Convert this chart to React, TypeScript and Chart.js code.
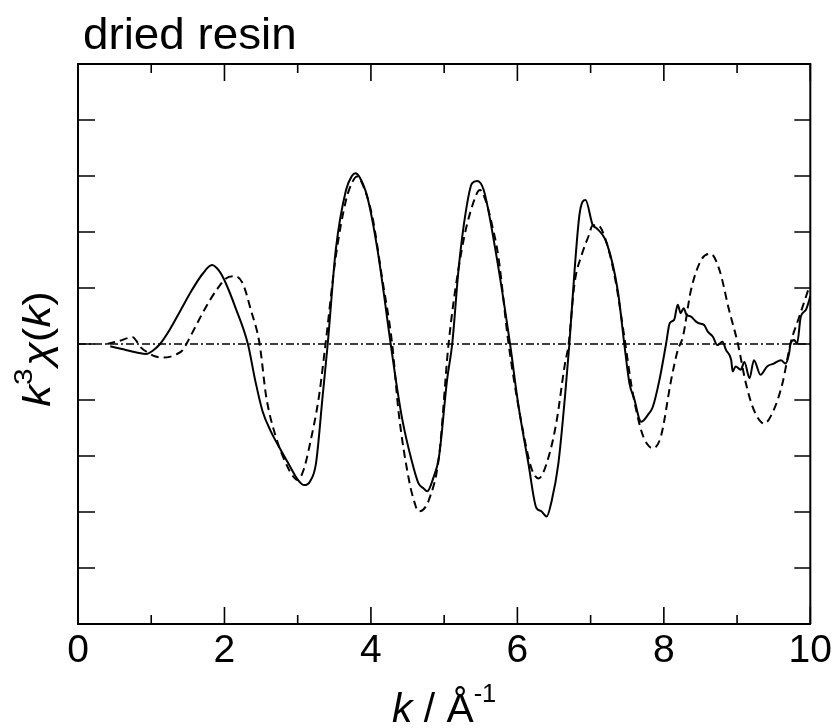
import React, { useEffect, useRef } from "react";
import { Chart, registerables } from "chart.js";

Chart.register(...registerables);

const FONT = '"Liberation Sans", Arial, sans-serif';

// Measured (solid) k^3 chi(k)
const measuredK = [
  0.44, 0.6, 0.8, 0.93, 1.02, 1.12, 1.25, 1.4, 1.55, 1.7, 1.83, 1.93, 2.02, 2.15, 2.32,
  2.42, 2.52, 2.63, 2.75, 2.88, 3.0, 3.09, 3.17, 3.25, 3.34, 3.41, 3.52, 3.66, 3.74, 3.79,
  3.84, 3.95, 4.09, 4.27, 4.34, 4.43, 4.55, 4.65, 4.72, 4.77, 4.85, 4.93, 5.04, 5.11, 5.2,
  5.3, 5.38, 5.45, 5.54, 5.7, 5.9, 6.01, 6.15, 6.26, 6.32, 6.4, 6.47, 6.56, 6.65, 6.71,
  6.78, 6.85, 6.93, 7.03, 7.08, 7.22, 7.37, 7.46, 7.53, 7.6, 7.67, 7.69, 7.78, 7.85, 7.94,
  8.03, 8.08, 8.14, 8.19, 8.23, 8.27, 8.31, 8.37, 8.44, 8.48, 8.55, 8.6, 8.67, 8.73, 8.8,
  8.85, 8.92, 8.94, 8.98, 9.05, 9.1, 9.17, 9.23, 9.32, 9.41, 9.5, 9.6, 9.66, 9.71, 9.73,
  9.78, 9.82, 9.87, 9.94, 10.0,
];
const measuredChi = [
  -0.04, -0.09, -0.15, -0.18, -0.12, 0.0, 0.25, 0.6, 0.95, 1.25, 1.41, 1.3, 1.08, 0.65, 0.0,
  -0.65, -1.2, -1.55, -1.85, -2.15, -2.42, -2.52, -2.45, -2.13, -0.94, 0.0, 1.68, 2.75, 3.0, 3.05,
  2.99, 2.63, 1.68, 0.0, -0.64, -1.36, -2.05, -2.49, -2.58, -2.63, -2.4, -2.01, -0.64, 0.0, 1.38,
  2.4, 2.87, 2.91, 2.75, 1.68, 0.0, -1.06, -2.13, -2.93, -2.98, -3.08, -2.79, -2.13, -0.94, 0.0,
  1.3, 2.33, 2.57, 2.12, 2.07, 1.8, 0.96, 0.0, -0.7, -1.0, -1.36, -1.39, -1.27, -1.12, -0.64,
  0.0, 0.37, 0.43, 0.7, 0.55, 0.64, 0.52, 0.49, 0.4, 0.37, 0.34, 0.22, 0.13, -0.02, 0.04,
  -0.11, -0.29, -0.49, -0.4, -0.46, -0.32, -0.61, -0.29, -0.55, -0.4, -0.35, -0.29, -0.35, -0.17, 0.01,
  0.07, 0.01, 0.49, 0.61, 0.85,
];

// Fitted (dashed) k^3 chi(k)
const fitK = [
  0.4, 0.55, 0.75, 0.8, 0.85, 0.95, 1.05, 1.15, 1.25, 1.35, 1.43, 1.48, 1.6, 1.7, 1.8,
  1.89, 2.02, 2.14, 2.25, 2.36, 2.48, 2.57, 2.7, 2.86, 2.93, 3.0, 3.08, 3.16, 3.29, 3.38,
  3.52, 3.66, 3.75, 3.81, 3.88, 4.02, 4.15, 4.29, 4.38, 4.52, 4.6, 4.65, 4.72, 4.79, 4.93,
  5.06, 5.24, 5.38, 5.49, 5.57, 5.65, 5.74, 5.88, 6.1, 6.2, 6.29, 6.4, 6.53, 6.65, 6.7,
  6.78, 6.88, 6.97, 7.03, 7.1, 7.19, 7.33, 7.46, 7.56, 7.69, 7.78, 7.85, 7.96, 8.1, 8.19,
  8.26, 8.37, 8.51, 8.64, 8.76, 8.89, 9.01, 9.12, 9.23, 9.37, 9.5, 9.62, 9.73, 9.85, 9.97,
];
const fitChi = [
  0.0, 0.05, 0.12, 0.05, -0.05, -0.15, -0.22, -0.24, -0.23, -0.18, -0.11, 0.0, 0.3, 0.55, 0.78,
  0.96, 1.17, 1.21, 1.08, 0.61, 0.0, -0.94, -1.65, -2.19, -2.35, -2.43, -2.25, -1.83, -0.94, 0.0,
  1.56, 2.57, 2.9, 2.99, 2.87, 2.27, 1.2, 0.0, -1.24, -2.43, -2.85, -2.99, -2.95, -2.79, -2.01,
  0.0, 1.68, 2.45, 2.75, 2.55, 2.15, 1.56, 0.0, -1.71, -2.25, -2.4, -2.13, -1.42, -0.35, 0.0,
  1.08, 1.6, 1.92, 2.12, 2.12, 1.92, 1.2, 0.13, -0.76, -1.54, -1.8, -1.86, -1.65, -0.64, -0.11,
  0.13, 0.96, 1.5, 1.61, 1.32, 0.61, 0.01, -0.7, -1.18, -1.42, -1.18, -0.7, 0.01, 0.49, 0.96,
];

const zeroK = [0, 10];
const zeroChi = [0, 0];

const xTickValues = [0, 1, 2, 3, 4, 5, 6, 7, 8, 9, 10];
const yTickValues = [-5, -4, -3, -2, -1, 0, 1, 2, 3, 4, 5];

const titleText = "dried resin";

type Part = { t: string; f: string; dy?: number; gap?: number };

function drawParts(ctx: CanvasRenderingContext2D, parts: Part[], sx: number) {
  let w = 0;
  for (const p of parts) {
    ctx.font = p.f;
    w += ctx.measureText(p.t).width + (p.gap || 0);
  }
  let x = -w / 2;
  ctx.scale(sx, 1);
  for (const p of parts) {
    ctx.font = p.f;
    ctx.fillText(p.t, x, p.dy || 0);
    x += ctx.measureText(p.t).width + (p.gap || 0);
  }
}

const framePlugin = {
  id: "framePlugin",
  afterDraw(chart: any) {
    const { ctx, chartArea } = chart;
    const xs = chart.scales.x;
    const ys = chart.scales.y;
    const { left, right, top, bottom } = chartArea;
    ctx.save();
    ctx.strokeStyle = "#000";
    ctx.lineWidth = 2;
    ctx.beginPath();
    ctx.moveTo(left, top);
    ctx.lineTo(right, top);
    ctx.lineTo(right, bottom);
    ctx.stroke();
    ctx.lineWidth = 1.6;
    ctx.beginPath();
    for (const v of xTickValues) {
      const px = xs.getPixelForValue(v);
      const len = v % 2 === 0 ? 17 : 9;
      ctx.moveTo(px, bottom);
      ctx.lineTo(px, bottom - len);
      ctx.moveTo(px, top);
      ctx.lineTo(px, top + len);
    }
    for (const v of yTickValues) {
      const py = ys.getPixelForValue(v);
      ctx.moveTo(left, py);
      ctx.lineTo(left + 17, py);
      ctx.moveTo(right, py);
      ctx.lineTo(right - 16, py);
    }
    ctx.stroke();

    ctx.fillStyle = "#000";
    ctx.textBaseline = "alphabetic";
    ctx.textAlign = "left";

    // main title
    ctx.save();
    ctx.translate(83, 49);
    ctx.font = `44px ${FONT}`;
    ctx.scale(1.04, 1);
    ctx.fillText(titleText, 0, 0);
    ctx.restore();

    // x axis title
    ctx.save();
    ctx.translate((left + right) / 2, 722);
    drawParts(
      ctx,
      [
        { t: "k", f: `italic 40px ${FONT}` },
        { t: " / Å", f: `40px ${FONT}` },
        { t: "-1", f: `25px ${FONT}`, dy: -20 },
      ],
      1.02
    );
    ctx.restore();

    // y axis title
    ctx.save();
    ctx.translate(50, (top + bottom) / 2 + 5);
    ctx.rotate(-Math.PI / 2);
    drawParts(
      ctx,
      [
        { t: "k", f: `italic 38px ${FONT}` },
        { t: "3", f: `26px ${FONT}`, dy: -18, gap: 2 },
        { t: "χ", f: `italic 38px ${FONT}` },
        { t: "(", f: `38px ${FONT}` },
        { t: "k", f: `italic 38px ${FONT}` },
        { t: ")", f: `38px ${FONT}` },
      ],
      1.15
    );
    ctx.restore();
    ctx.restore();
  },
};

export default function App() {
  const ref = useRef<HTMLCanvasElement | null>(null);
  useEffect(() => {
    document.body.style.margin = "0";
    const canvas = ref.current;
    if (!canvas) return;
    const toPts = (xs: number[], ys: number[]) => xs.map((x, i) => ({ x, y: ys[i] }));
    const chart = new Chart(canvas, {
      type: "line",
      data: {
        datasets: [
          {
            label: "zero",
            data: toPts(zeroK, zeroChi),
            borderColor: "#000",
            borderWidth: 1.6,
            borderDash: [8, 3, 2, 3],
            pointRadius: 0,
            tension: 0,
          },
          {
            label: "fit",
            data: toPts(fitK, fitChi),
            borderColor: "#000",
            borderWidth: 2,
            borderDash: [8, 5],
            pointRadius: 0,
            cubicInterpolationMode: "monotone",
          },
          {
            label: "measured",
            data: toPts(measuredK, measuredChi),
            borderColor: "#000",
            borderWidth: 2,
            pointRadius: 0,
            cubicInterpolationMode: "monotone",
          },
        ],
      },
      options: {
        animation: false,
        responsive: false,
        devicePixelRatio: 1,
        layout: { padding: { top: 64, right: 23, left: 0, bottom: 0 } },
        plugins: { legend: { display: false }, tooltip: { enabled: false }, title: { display: false } },
        scales: {
          x: {
            type: "linear",
            min: 0,
            max: 10,
            position: "bottom",
            ticks: {
              stepSize: 2,
              color: "#000",
              font: { family: FONT, size: 39 },
              padding: 4,
              maxRotation: 0,
            },
            grid: { display: false, drawTicks: false },
            border: { display: true, color: "#000", width: 2 },
            afterFit: (s: any) => {
              s.height = 104;
            },
          },
          y: {
            type: "linear",
            min: -5,
            max: 5,
            ticks: { display: false, stepSize: 1 },
            grid: { display: false, drawTicks: false },
            border: { display: true, color: "#000", width: 2 },
            afterFit: (s: any) => {
              s.width = 78;
            },
          },
        },
      } as any,
      plugins: [framePlugin],
    });
    return () => chart.destroy();
  }, []);
  return <canvas ref={ref} width={836} height={728} style={{ display: "block" }} />;
}
